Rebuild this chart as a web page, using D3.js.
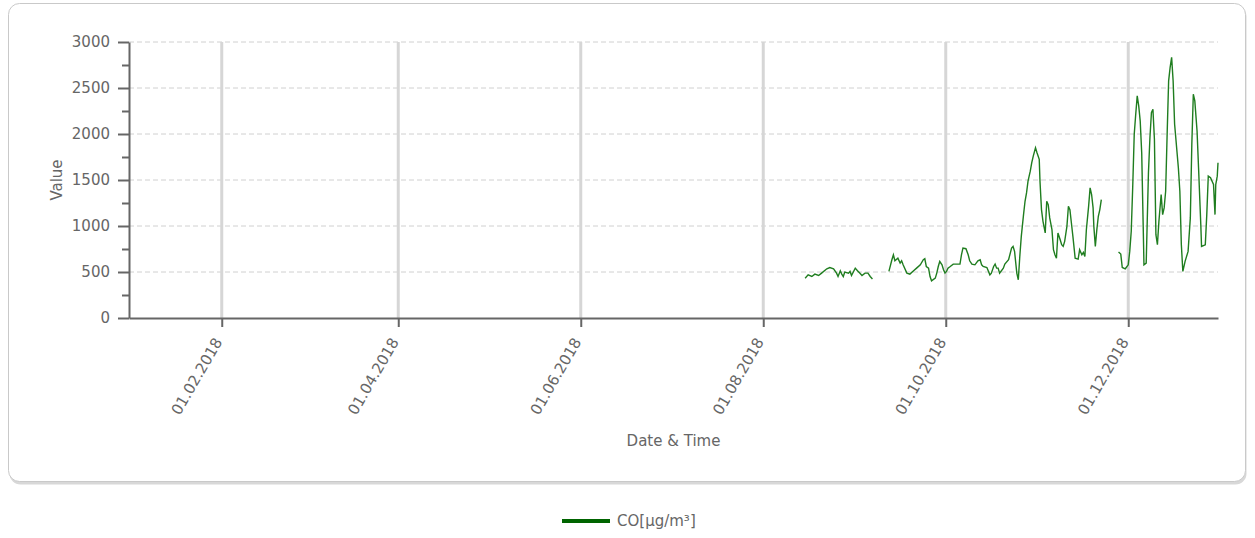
<!DOCTYPE html>
<html>
<head>
<meta charset="utf-8">
<script src="https://cdn.jsdelivr.net/npm/d3@7"></script>
<style>
  body { margin: 0; background: #fff; }
  text { font-family: "DejaVu Sans", sans-serif; fill: #666; }
</style>
</head>
<body>
<div id="chart"></div>
<script>
// CO measurements, null = no data (gap in the line)
const times = [
  "2018-08-15T00", "2018-08-16T00", "2018-08-17T06", "2018-08-18T06", "2018-08-19T12", "2018-08-20T12",
  "2018-08-22T06", "2018-08-23T06", "2018-08-24T12", "2018-08-25T12", "2018-08-26T00", "2018-08-26T18",
  "2018-08-27T06", "2018-08-27T18", "2018-08-28T06", "2018-08-29T12", "2018-08-30T00", "2018-08-30T12",
  "2018-08-31T18", "2018-09-01T12", "2018-09-02T06", "2018-09-03T00", "2018-09-04T00", "2018-09-05T00",
  "2018-09-05T18", "2018-09-06T12",
  "2018-09-09T00",
  "2018-09-12T00", "2018-09-13T00", "2018-09-13T12", "2018-09-14T00", "2018-09-15T00", "2018-09-15T18",
  "2018-09-16T06", "2018-09-16T18", "2018-09-18T00", "2018-09-19T00", "2018-09-20T06", "2018-09-21T06",
  "2018-09-22T12", "2018-09-23T12", "2018-09-24T00", "2018-09-24T12", "2018-09-25T06", "2018-09-25T18",
  "2018-09-26T06", "2018-09-27T12", "2018-09-28T00", "2018-09-28T12", "2018-09-29T00", "2018-09-29T18",
  "2018-09-30T06", "2018-09-30T18", "2018-10-01T06", "2018-10-01T18", "2018-10-02T12", "2018-10-03T12",
  "2018-10-05T18", "2018-10-06T06", "2018-10-06T18", "2018-10-07T18", "2018-10-08T12", "2018-10-09T00",
  "2018-10-09T18", "2018-10-10T18", "2018-10-11T18", "2018-10-12T12", "2018-10-13T00", "2018-10-13T12",
  "2018-10-14T18", "2018-10-15T18", "2018-10-16T06", "2018-10-17T00", "2018-10-17T12", "2018-10-18T00",
  "2018-10-18T12", "2018-10-19T00", "2018-10-20T06", "2018-10-20T18", "2018-10-22T00", "2018-10-23T00",
  "2018-10-23T12", "2018-10-24T00", "2018-10-24T18", "2018-10-25T06", "2018-10-25T18", "2018-10-26T06",
  "2018-10-27T00", "2018-10-27T12", "2018-10-28T00", "2018-10-28T12", "2018-10-29T06", "2018-10-29T18",
  "2018-10-30T06", "2018-10-31T00", "2018-10-31T12", "2018-11-01T06", "2018-11-01T12", "2018-11-02T00",
  "2018-11-02T12", "2018-11-03T06", "2018-11-03T18", "2018-11-04T06", "2018-11-04T18", "2018-11-05T12",
  "2018-11-06T00", "2018-11-06T12", "2018-11-07T00", "2018-11-07T12", "2018-11-08T06", "2018-11-08T18",
  "2018-11-09T06", "2018-11-09T18", "2018-11-10T12", "2018-11-11T00", "2018-11-11T12", "2018-11-12T00",
  "2018-11-12T12", "2018-11-13T06", "2018-11-14T06", "2018-11-14T18", "2018-11-15T12", "2018-11-16T00",
  "2018-11-16T12", "2018-11-17T00", "2018-11-17T18", "2018-11-18T06", "2018-11-18T18", "2018-11-19T06",
  "2018-11-19T12", "2018-11-20T00", "2018-11-20T12", "2018-11-21T00", "2018-11-21T12", "2018-11-22T00",
  "2018-11-25T00",
  "2018-11-27T18", "2018-11-28T12", "2018-11-29T00", "2018-11-30T00", "2018-12-01T00", "2018-12-01T12",
  "2018-12-02T00", "2018-12-02T12", "2018-12-03T00", "2018-12-03T12", "2018-12-04T00", "2018-12-04T12",
  "2018-12-05T00", "2018-12-05T12", "2018-12-06T00", "2018-12-06T06", "2018-12-07T00", "2018-12-07T18",
  "2018-12-08T06", "2018-12-08T18", "2018-12-09T06", "2018-12-09T18", "2018-12-10T06", "2018-12-10T18",
  "2018-12-11T06", "2018-12-12T00", "2018-12-12T12", "2018-12-13T00", "2018-12-13T12", "2018-12-14T00",
  "2018-12-14T12", "2018-12-15T00", "2018-12-15T12", "2018-12-16T00", "2018-12-16T12", "2018-12-17T18",
  "2018-12-18T06", "2018-12-18T18", "2018-12-19T06", "2018-12-20T00", "2018-12-21T00", "2018-12-21T18",
  "2018-12-22T06", "2018-12-22T18", "2018-12-23T06", "2018-12-24T00", "2018-12-24T12", "2018-12-25T06",
  "2018-12-25T12", "2018-12-26T18", "2018-12-27T06", "2018-12-27T18", "2018-12-28T12", "2018-12-29T12",
  "2018-12-30T00", "2018-12-30T06", "2018-12-30T18", "2018-12-31T00"
];
const coValues = [
  433, 469, 451, 477, 462, 488,
  535, 549, 535, 488, 451, 513,
  477, 451, 499, 488, 506, 462,
  542, 513, 488, 462, 488, 488,
  451, 425,
  null,
  506, 633, 687, 622, 651, 597,
  622, 578, 488, 477, 513, 542,
  578, 633, 644, 560, 542, 451,
  404, 433, 488, 560, 615, 578,
  524, 488, 506, 542, 560, 586,
  586, 687, 760, 753, 687, 622,
  586, 578, 622, 633, 578, 560,
  549, 469, 488, 560, 586, 542,
  542, 488, 542, 586, 633, 760,
  778, 724, 488, 415, 669, 887,
  1124, 1269, 1360, 1487, 1596, 1688,
  1760, 1851, 1797, 1724, 1487, 1178,
  1051, 924, 1269, 1233, 1088, 960,
  742, 687, 651, 924, 851, 796,
  778, 833, 996, 1214, 1178, 1033,
  887, 651, 640, 742, 687, 713,
  669, 960, 1214, 1415, 1342, 1197,
  996, 778, 960, 1106, 1178, 1287,
  null,
  717, 695, 549, 535, 578, 724,
  942, 1433, 1997, 2215, 2414, 2305,
  2142, 1797, 996, 578, 597, 1579,
  1961, 2233, 2269, 1942, 906, 796,
  1051, 1342, 1124, 1197, 1378, 1997,
  2578, 2724, 2833, 2578, 2106, 1633,
  1378, 796, 506, 615, 724, 1088,
  1888, 2433, 2360, 2033, 1633, 1015,
  778, 796, 1124, 1542, 1524, 1451,
  1124, 1451, 1542, 1688
];
const xTickLabels = ["01.02.2018", "01.04.2018", "01.06.2018", "01.08.2018", "01.10.2018", "01.12.2018"];
const yTicks = [0, 500, 1000, 1500, 2000, 2500, 3000];
const yMinorTicks = [250, 750, 1250, 1750, 2250, 2750];
const seriesName = "CO[µg/m³]";

const W = 1255, H = 538;
const margin = { top: 42, right: 37, bottom: 220, left: 129 };
const iw = W - margin.left - margin.right,
      ih = H - margin.top - margin.bottom;

const parseTime = d3.timeParse("%Y-%m-%dT%H");
const parseTick = d3.timeParse("%d.%m.%Y");
const data = times.map((t, i) => ({ t: parseTime(t), v: coValues[i] }));

const svg = d3.select("#chart").append("svg")
    .attr("width", W)
    .attr("height", H);

// rahmen mit schatten
svg.append("rect")
    .attr("x", 9.5).attr("y", 5.5)
    .attr("width", 1237).attr("height", 479)
    .attr("rx", 11)
    .attr("fill", "#d8d8d8");
svg.append("rect")
    .attr("x", 8.5).attr("y", 3.5)
    .attr("width", 1237).attr("height", 478)
    .attr("rx", 11)
    .attr("fill", "#fff")
    .attr("stroke", "#c9c9c9");

const x = d3.scaleTime()
    .domain([parseTime("2018-01-01T00"), parseTime("2018-12-31T00")])
    .range([0, iw]);
const y = d3.scaleLinear()
    .domain([0, 3000])
    .range([ih, 0]);

const g = svg.append("g")
    .attr("transform", `translate(${margin.left},${margin.top})`);

// horizontale gitterlinien
g.append("g")
    .selectAll("line")
    .data(yTicks.slice(1))
    .join("line")
    .attr("x1", 0).attr("x2", iw)
    .attr("y1", d => y(d)).attr("y2", d => y(d))
    .attr("stroke", "#d0d0d0")
    .attr("stroke-dasharray", "5,3");

// vertikale gitterlinien
const xTickDates = xTickLabels.map(parseTick);
g.append("g")
    .selectAll("line")
    .data(xTickDates)
    .join("line")
    .attr("x1", d => x(d)).attr("x2", d => x(d))
    .attr("y1", 0).attr("y2", ih)
    .attr("stroke", "#d6d6d6")
    .attr("stroke-width", 3);

// linie
const line = d3.line()
    .defined(d => d.v != null)
    .x(d => x(d.t))
    .y(d => y(d.v));

g.append("path")
    .datum(data)
    .attr("fill", "none")
    .attr("stroke", "#1f7d1f")
    .attr("stroke-width", 1.4)
    .attr("d", line);

// y achse
const yMinor = g.append("g")
    .call(d3.axisLeft(y).tickValues(yMinorTicks).tickSize(7).tickFormat(""));
yMinor.select(".domain").remove();
yMinor.selectAll("line").attr("stroke", "#666").attr("stroke-width", 2);

const yAxis = g.append("g")
    .call(d3.axisLeft(y).tickValues(yTicks).tickSize(11).tickPadding(8).tickSizeOuter(0)
        .tickFormat(d3.format("d")));
yAxis.select(".domain").attr("stroke", "#666").attr("stroke-width", 2);
yAxis.selectAll(".tick line").attr("stroke", "#666").attr("stroke-width", 2);
yAxis.selectAll("text").style("font-size", "15px").attr("fill", "#666");

// x achse
const xAxis = g.append("g")
    .attr("transform", `translate(0,${ih})`)
    .call(d3.axisBottom(x).tickValues(xTickDates).tickSize(9).tickSizeOuter(0)
        .tickFormat(d3.timeFormat("%d.%m.%Y")));
xAxis.select(".domain").attr("stroke", "#666").attr("stroke-width", 2);
xAxis.selectAll(".tick line").attr("stroke", "#666").attr("stroke-width", 2);
xAxis.selectAll("text")
    .style("font-size", "15px")
    .attr("fill", "#666")
    .attr("text-anchor", "end")
    .attr("dy", "0.35em")
    .attr("y", 0)
    .attr("transform", "translate(-4,21) rotate(-60)");

// achsentitel
svg.append("text")
    .attr("transform", `translate(62,${margin.top + ih / 2}) rotate(-90)`)
    .attr("text-anchor", "middle")
    .style("font-size", "15px")
    .text("Value");

svg.append("text")
    .attr("x", margin.left + iw / 2)
    .attr("y", 446)
    .attr("text-anchor", "middle")
    .style("font-size", "15px")
    .text("Date & Time");

// legende
svg.append("line")
    .attr("x1", 562).attr("x2", 610)
    .attr("y1", 521).attr("y2", 521)
    .attr("stroke", "#006400")
    .attr("stroke-width", 4);
svg.append("text")
    .attr("x", 617)
    .attr("y", 521)
    .attr("dy", "0.35em")
    .style("font-size", "15px")
    .attr("fill", "#333")
    .text(seriesName);
</script>
</body>
</html>
